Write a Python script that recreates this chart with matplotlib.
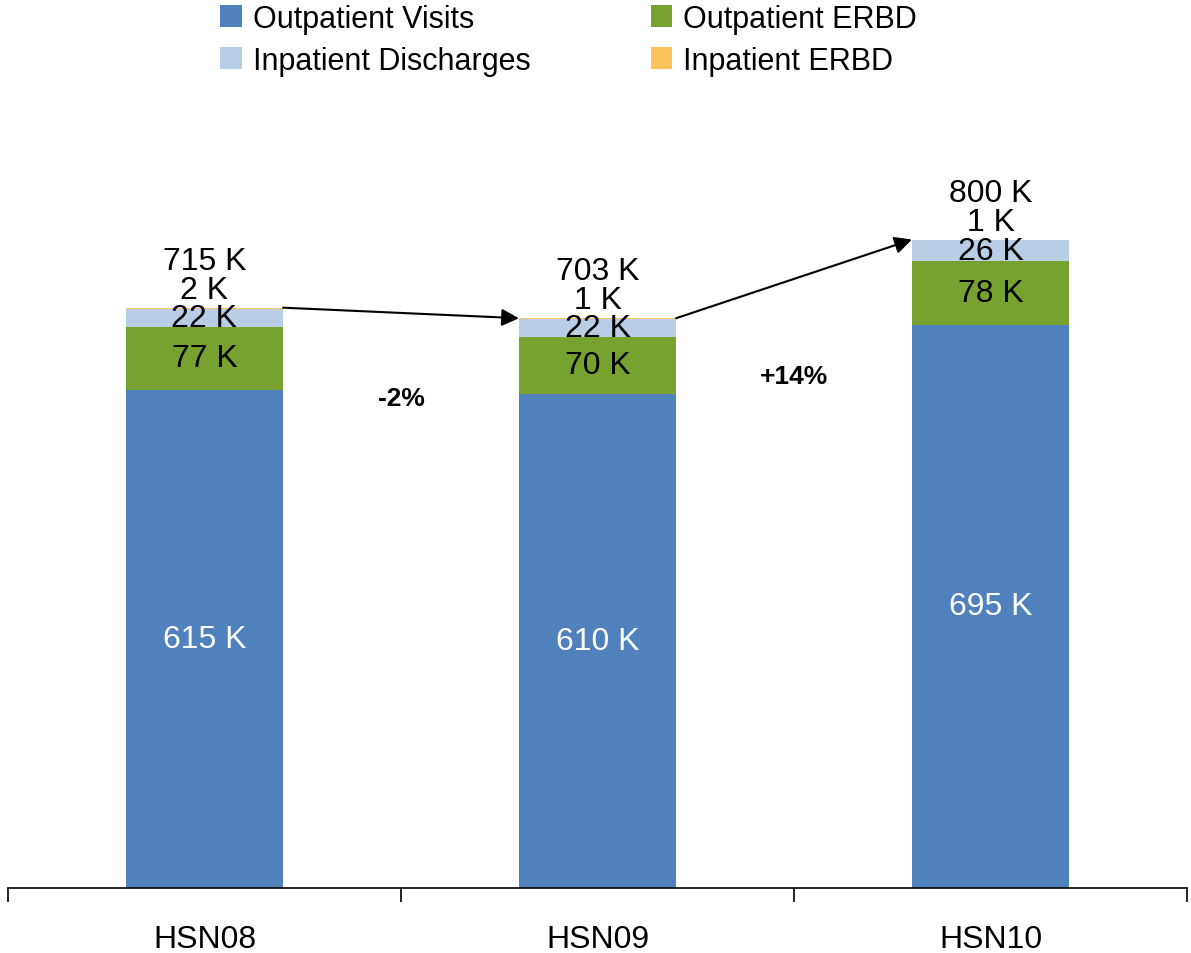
import matplotlib.pyplot as plt

plt.rcParams['font.family'] = ['Liberation Sans', 'DejaVu Sans']

# Data (thousands)
years = ['HSN08', 'HSN09', 'HSN10']
outpatient_visits = [615, 610, 695]
outpatient_erbd = [77, 70, 78]
inpatient_discharges = [22, 22, 26]
inpatient_erbd = [2, 1, 1]
totals = [715, 703, 800]
growth = ['-2%', '+14%']

colors = ['#4F81BD', '#77A22F', '#B9CDE5', '#FDC35F']
names = ['Outpatient Visits', 'Outpatient ERBD', 'Inpatient Discharges', 'Inpatient ERBD']
series = [outpatient_visits, outpatient_erbd, inpatient_discharges, inpatient_erbd]

fig = plt.figure(figsize=(11.91, 9.54), dpi=100)
ax = fig.add_axes([0.0067, 0.068, 0.99, 0.775])

x = list(range(len(years)))
w = 0.4
fs = 23
bottom = [0, 0, 0]
handles = []
for vals, c, name in zip(series, colors, names):
    h = ax.bar(x, vals, w, bottom=bottom, color=c, label=name)
    handles.append(h)
    for i, v in enumerate(vals):
        if name == 'Outpatient Visits':
            ax.text(i, bottom[i] + v / 2, f'{v} K', ha='center', va='center',
                    fontsize=fs, color='white')
        elif name == 'Inpatient ERBD':
            ax.text(i, bottom[i] + v + 22, f'{v} K', ha='center', va='center',
                    fontsize=fs)
        else:
            ax.text(i, bottom[i] + v / 2, f'{v} K', ha='center', va='center',
                    fontsize=fs)
    bottom = [b + v for b, v in zip(bottom, vals)]

# totals above bars
for i, t in enumerate(totals):
    ax.text(i, bottom[i] + 58, f'{t} K', ha='center', va='center', fontsize=fs)

# arrows between bars and growth labels
for i in range(len(years) - 1):
    ax.annotate('', xy=(i + 1 - w / 2, bottom[i + 1]), xytext=(i + w / 2, bottom[i]),
                arrowprops=dict(arrowstyle='-|>', color='black', lw=1.5,
                                mutation_scale=26, shrinkA=0, shrinkB=0))
ax.text(0.5, 605, growth[0], ha='center', va='center', fontsize=19, fontweight='bold')
ax.text(1.5, 632, growth[1], ha='center', va='center', fontsize=19, fontweight='bold')

ax.set_xlim(-0.5, 2.5)
ax.set_ylim(0, 912)
ax.set_xticks(x)
ax.set_xticklabels(years, fontsize=fs)
ax.tick_params(axis='x', which='major', length=0, pad=26)
ax.set_xticks([-0.5, 0.5, 1.5, 2.5], minor=True)
ax.tick_params(axis='x', which='minor', length=10, width=1.2, direction='out')
ax.set_yticks([])
for s in ['top', 'right', 'left']:
    ax.spines[s].set_visible(False)
ax.spines['bottom'].set_linewidth(1.2)

fig.legend(handles=[handles[0], handles[2], handles[1], handles[3]],
           labels=[names[0], names[2], names[1], names[3]],
           ncol=2, loc='upper left', bbox_to_anchor=(0.162, 1.024), frameon=False,
           fontsize=22, handlelength=0.7, handleheight=0.7, handletextpad=0.35,
           columnspacing=3.95, labelspacing=0.4)

fig.savefig('out.png', dpi=100)
